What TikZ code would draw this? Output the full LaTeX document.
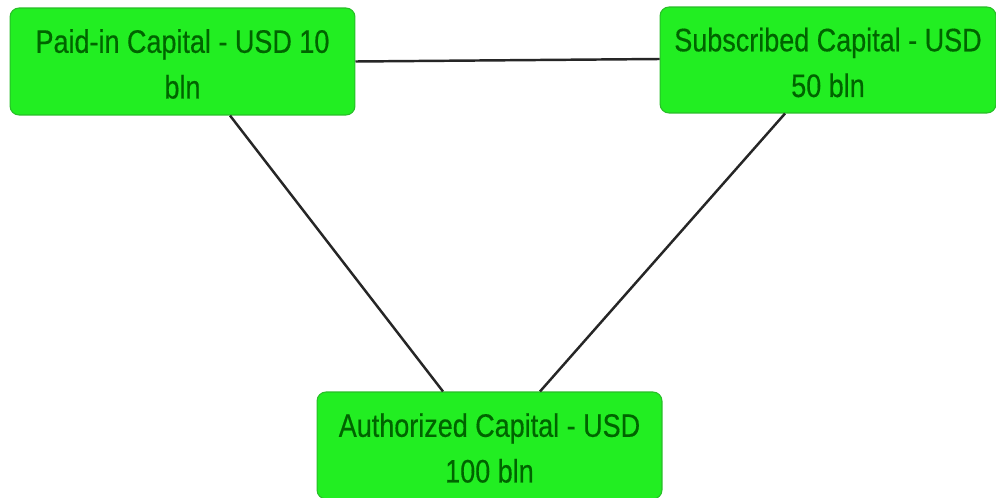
\documentclass[tikz,border=0pt]{standalone}
\usepackage{fontspec}
\setmainfont{Liberation Sans}[FakeStretch=0.83, FakeBold=0.4]
\definecolor{boxfill}{RGB}{34,238,34}
\definecolor{boxedge}{RGB}{40,190,40}
\definecolor{boxtext}{RGB}{0,100,0}
\newcommand{\twolines}[2]{\raisebox{-0.1cm}[\height][\depth]{\begin{tabular}{@{}c@{}}#1\\#2\end{tabular}}}
\tikzset{
  capbox/.style={draw=boxedge, line width=0.6pt, fill=boxfill, rounded corners=0.18cm,
    align=center, text=boxtext, inner sep=0pt,
    font=\fontsize{18.5pt}{26pt}\selectfont},
  link/.style={draw=black!85, line width=1.4pt}
}
\begin{document}
\begin{tikzpicture}[x=0.02cm, y=-0.02cm]
\clip (0,0) rectangle (996,497);
\fill[white] (0,0) rectangle (996,497);
\node[capbox, minimum width=6.9cm, minimum height=2.14cm] (paid) at (182.5,61.5)
  {\twolines{Paid-in Capital - USD 10}{bln}};
\node[capbox, minimum width=6.72cm, minimum height=2.12cm] (subs) at (828,60)
  {\twolines{Subscribed Capital - USD}{50 bln}};
\node[capbox, minimum width=6.9cm, minimum height=2.14cm] (auth) at (489.5,445.5)
  {\twolines{Authorized Capital - USD}{100 bln}};
\draw[link] (paid.east) -- ([yshift=0.02cm]subs.west);
\draw[link] ([xshift=0.95cm]paid.south) -- ([xshift=-0.93cm]auth.north);
\draw[link] ([xshift=-0.86cm]subs.south) -- ([xshift=1.01cm]auth.north);
\end{tikzpicture}
\end{document}
